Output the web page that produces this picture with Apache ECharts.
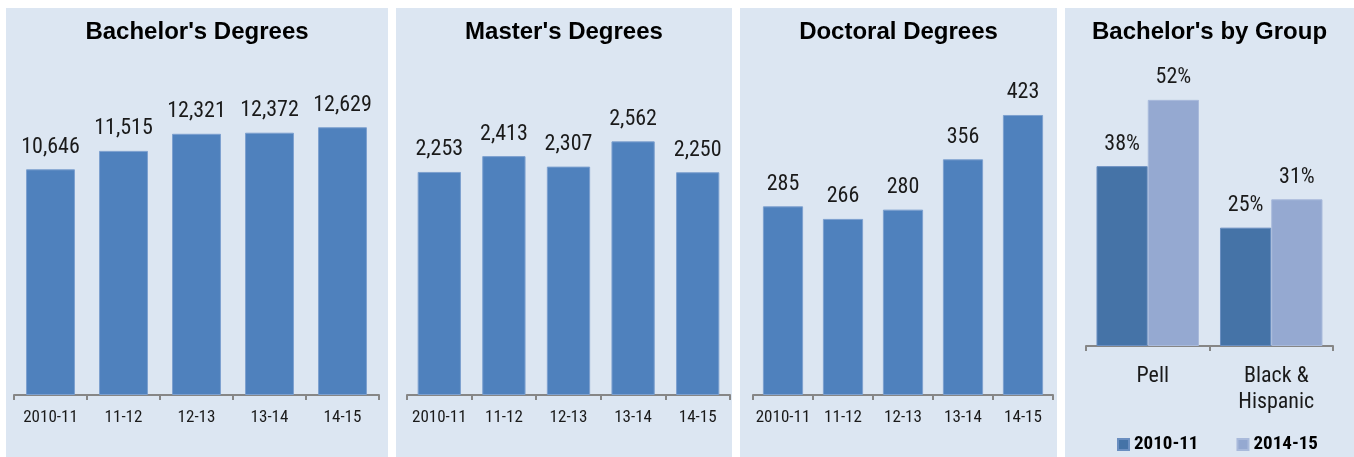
<!DOCTYPE html>
<html>
<head>
<meta charset="utf-8">
<script src="https://cdn.jsdelivr.net/npm/echarts@6/dist/echarts.min.js"></script>
<style>
  html, body { margin: 0; padding: 0; background: #fff; }
  #chart { width: 1354px; height: 457px; }
</style>
</head>
<body>
<div id="chart"></div>
<script>
// 数据
const years = ['2010-11', '11-12', '12-13', '13-14', '14-15']
const bachelors = [10646, 11515, 12321, 12372, 12629]
const masters = [2253, 2413, 2307, 2562, 2250]
const doctoral = [285, 266, 280, 356, 423]
const groups = ['Pell', 'Black &\nHispanic']
const group2010 = [38, 25]
const group2014 = [52, 31]

const narrow = '"Roboto Condensed", "Arial Narrow", sans-serif'
const panelColor = '#DCE6F2'
const barColor = '#4F81BD'
const axisColor = '#868686'

// 面板背景和标题
const panels = [
  { x: 6, w: 382, title: "Bachelor's Degrees" },
  { x: 396, w: 336, title: "Master's Degrees" },
  { x: 740, w: 317, title: 'Doctoral Degrees' },
  { x: 1065, w: 289, title: "Bachelor's by Group" }
]
const graphics = []
panels.forEach(p => {
  graphics.push({
    type: 'rect',
    z: -10,
    shape: { x: p.x, y: 8, width: p.w, height: 449 },
    style: { fill: panelColor }
  })
  graphics.push({
    type: 'text',
    z: 10,
    x: p.x + p.w / 2,
    y: 20,
    style: {
      text: p.title,
      fill: '#000',
      font: 'bold 24px "Liberation Sans", Arial, sans-serif',
      textAlign: 'center',
      textVerticalAlign: 'top'
    }
  })
})

function catAxis (gridIndex, data, labelSize, margin, lineHeight, padding) {
  return {
    type: 'category',
    gridIndex: gridIndex,
    data: data,
    axisLine: { show: true, lineStyle: { color: axisColor, width: 2 } },
    axisTick: { show: true, length: 5, lineStyle: { color: axisColor, width: 2 } },
    axisLabel: {
      color: '#1a1a1a',
      fontFamily: narrow,
      fontSize: labelSize,
      margin: margin,
      lineHeight: lineHeight,
      padding: padding || 0,
      interval: 0
    }
  }
}

function valAxis (gridIndex, max) {
  return { type: 'value', gridIndex: gridIndex, min: 0, max: max, show: false }
}

const valueLabel = {
  show: true,
  position: 'top',
  distance: 11,
  color: '#1a1a1a',
  fontFamily: narrow,
  fontSize: 22,
  formatter: p => p.value.toLocaleString('en-US')
}

function simpleBar (index, data) {
  return {
    type: 'bar',
    xAxisIndex: index,
    yAxisIndex: index,
    data: data,
    barCategoryGap: '33%',
    itemStyle: { color: barColor, borderColor: '#7DA0CF', borderWidth: 1 },
    label: valueLabel
  }
}

const pctLabel = Object.assign({}, valueLabel, { fontSize: 22, formatter: p => p.value + '%' })

const chartInstance = echarts.init(document.getElementById('chart'))
chartInstance.setOption({
  backgroundColor: '#fff',
  animation: false,
  graphic: graphics,
  legend: {
    data: ['2010-11', '2014-15'],
    left: 1117,
    top: 435,
    icon: 'rect',
    itemWidth: 11,
    itemHeight: 11,
    itemGap: 38,
    padding: 0,
    textStyle: { color: '#000', fontFamily: narrow, fontSize: 19, fontWeight: 'bold' }
  },
  grid: [
    { left: 14, top: 77, width: 365, height: 318 },
    { left: 407, top: 98, width: 323, height: 297 },
    { left: 753, top: 64, width: 300, height: 331 },
    { left: 1086, top: 62, width: 247, height: 284 }
  ],
  xAxis: [
    catAxis(0, years, 17, 14),
    catAxis(1, years, 17, 14),
    catAxis(2, years, 17, 14),
    catAxis(3, groups, 22, 17, 26, [0, 0, 0, 10])
  ],
  yAxis: [
    valAxis(0, 15000),
    valAxis(1, 3000),
    valAxis(2, 500),
    valAxis(3, 60)
  ],
  series: [
    simpleBar(0, bachelors),
    simpleBar(1, masters),
    simpleBar(2, doctoral),
    {
      name: '2010-11',
      type: 'bar',
      xAxisIndex: 3,
      yAxisIndex: 3,
      data: group2010,
      barGap: 0,
      barCategoryGap: '17%',
      itemStyle: { color: '#4573A7', borderColor: '#6A8EC0', borderWidth: 1 },
      label: pctLabel
    },
    {
      name: '2014-15',
      type: 'bar',
      xAxisIndex: 3,
      yAxisIndex: 3,
      data: group2014,
      barGap: 0,
      barCategoryGap: '17%',
      itemStyle: { color: '#95A9D1', borderColor: '#A9BADB', borderWidth: 1 },
      label: pctLabel
    }
  ]
})
</script>
</body>
</html>
